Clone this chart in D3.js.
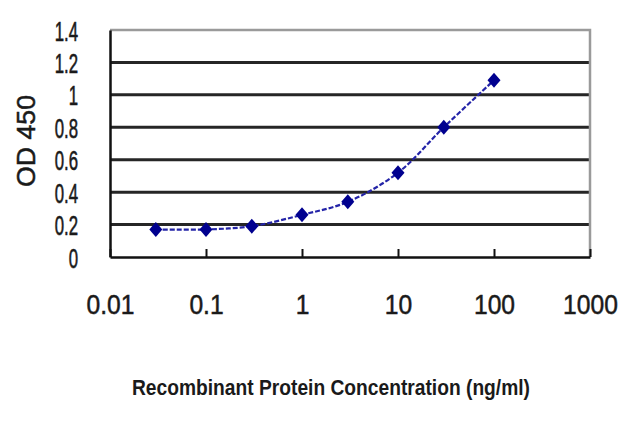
<!DOCTYPE html>
<html>
<head>
<meta charset="UTF-8">
<script src="https://cdnjs.cloudflare.com/ajax/libs/d3/7.8.5/d3.min.js"></script>
<style>
  body { margin: 0; background: #fff; }
  text { font-family: "Liberation Sans", Arial, sans-serif; fill: #1a1a1a; }
</style>
</head>
<body>
<svg id="chart" width="640" height="427"></svg>
<script>
// concentration (x) and OD 450 (y)
var conc = [0.03, 0.1, 0.3, 1, 3, 10, 30, 100];
var od = [0.17, 0.17, 0.19, 0.26, 0.34, 0.52, 0.80, 1.09];
var xTicks = [0.01, 0.1, 1, 10, 100, 1000];
var xTickLabels = ["0.01", "0.1", "1", "10", "100", "1000"];
var yTicks = [0, 0.2, 0.4, 0.6, 0.8, 1, 1.2, 1.4];

var plotLeft = 110, plotRight = 590, plotTop = 30, plotBottom = 257;

var svg = d3.select("#chart");

var x = d3.scaleLog().domain([0.01, 1000]).range([plotLeft, plotRight]);
var y = d3.scaleLinear().domain([0, 1.4]).range([plotBottom, plotTop]);

// gridlines
svg.append("g")
    .selectAll("line")
    .data(yTicks.filter(function (d) { return d > 0 && d < 1.4; }))
    .enter().append("line")
    .attr("x1", plotLeft).attr("x2", plotRight)
    .attr("y1", function (d) { return y(d); })
    .attr("y2", function (d) { return y(d); })
    .style("stroke", "#262626")
    .style("stroke-width", 3);

// top and right border (grey)
svg.append("path")
    .attr("d", "M" + plotLeft + "," + y(1.4) + "H" + plotRight + "V" + plotBottom)
    .style("fill", "none")
    .style("stroke", "#9a9a9a")
    .style("stroke-width", 2.5);

// y axis
var yAxis = d3.axisLeft(y).tickValues(yTicks).tickSize(0).tickPadding(0)
    .tickFormat(function (d) { return String(+d.toFixed(1)); });
var gy = svg.append("g").attr("transform", "translate(" + plotLeft + ",0)").call(yAxis);
gy.select(".domain").style("stroke", "#111").style("stroke-width", 2.5);
gy.selectAll("text")
    .attr("x", -32 / 0.6)
    .attr("dy", "0.36em")
    .attr("transform", "scale(0.6,1)")
    .style("font-size", "28px")
    .style("text-anchor", "end")
    .style("font-family", "'Liberation Sans', Arial, sans-serif")
    .style("fill", "#1a1a1a")
    .style("stroke", "#1a1a1a")
    .style("stroke-width", 0.6);

// x axis
var xAxis = d3.axisBottom(x).tickValues(xTicks).tickSizeInner(-8).tickSizeOuter(0)
    .tickFormat(function (d, i) { return xTickLabels[i]; });
var gx = svg.append("g").attr("transform", "translate(0," + plotBottom + ")").call(xAxis);
gx.select(".domain").style("stroke", "#111").style("stroke-width", 2.5);
gx.selectAll("line").style("stroke", "#111").style("stroke-width", 2);
gx.selectAll("text")
    .attr("y", 0)
    .attr("dy", 0)
    .attr("transform", "translate(0,57) scale(0.88,1)")
    .style("font-size", "28px")
    .style("font-family", "'Liberation Sans', Arial, sans-serif")
    .style("fill", "#1a1a1a")
    .style("stroke", "#1a1a1a")
    .style("stroke-width", 0.5);

// curve
var line = d3.line()
    .x(function (d, i) { return x(conc[i]); })
    .y(function (d) { return y(d); })
    .curve(d3.curveCatmullRom.alpha(0.5));

svg.append("path")
    .datum(od)
    .attr("d", line)
    .style("fill", "none")
    .style("stroke", "#2424a8")
    .style("stroke-width", 2.2)
    .style("stroke-dasharray", "5,2");

// diamond markers
svg.append("g")
    .selectAll("path")
    .data(od)
    .enter().append("path")
    .attr("transform", function (d, i) { return "translate(" + x(conc[i]) + "," + y(d) + ")"; })
    .attr("d", "M0,-7.5L6.5,0L0,7.5L-6.5,0Z")
    .style("fill", "#00008f");

// axis titles
svg.append("text")
    .attr("transform", "translate(35,141) rotate(-90)")
    .style("text-anchor", "middle")
    .style("font-size", "25px")
    .style("stroke", "#1a1a1a")
    .style("stroke-width", 0.5)
    .attr("textLength", 92)
    .attr("lengthAdjust", "spacingAndGlyphs")
    .text("OD 450");

svg.append("text")
    .attr("x", 331)
    .attr("y", 395)
    .style("text-anchor", "middle")
    .style("font-size", "22px")
    .style("font-weight", "bold")
    .attr("textLength", 398)
    .attr("lengthAdjust", "spacingAndGlyphs")
    .text("Recombinant Protein Concentration (ng/ml)");
</script>
</body>
</html>
